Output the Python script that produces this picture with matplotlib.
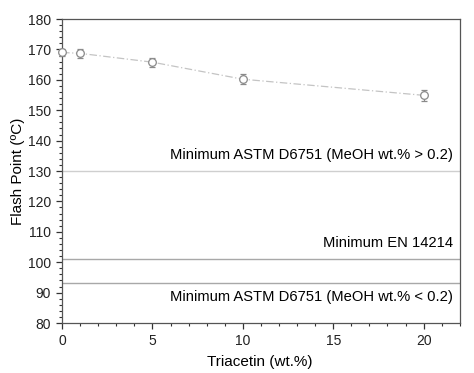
import numpy as np
import matplotlib.pyplot as plt
from matplotlib.ticker import MultipleLocator

plt.rcParams['font.family'] = ['Liberation Sans', 'DejaVu Sans']

# Datos
triacetin = [0, 1, 5, 10, 20]
flash_point = [169.0, 168.7, 165.8, 160.2, 154.9]
error = [1.2, 1.6, 1.5, 1.6, 1.8]

# Límites de las normas
limites = [130, 101, 93]
textos = ["Minimum ASTM D6751 (MeOH wt.% > 0.2)",
          "Minimum EN 14214",
          "Minimum ASTM D6751 (MeOH wt.% < 0.2)"]

fig = plt.figure(figsize=(4.74, 3.73), dpi=100)
ax = fig.add_axes([0.131, 0.134, 0.839, 0.815])

ax.plot(triacetin, flash_point, color='#c4c4c4', lw=0.9, ls=(0, (6, 2, 1, 2)), zorder=2)
ax.errorbar(triacetin, flash_point, yerr=error, fmt='o', ms=5.5, mfc='white',
            mec='#8a8a8a', mew=0.9, ecolor='#8a8a8a', elinewidth=0.9, capsize=2.5,
            capthick=0.9, clip_on=False, zorder=3)

colores = ['#cfcfcf', '#a8a8a8', '#a8a8a8']
for y, c in zip(limites, colores):
    ax.axhline(y, color=c, lw=1.0, zorder=1)

ax.text(21.6, limites[0] + 3, textos[0], ha='right', va='bottom', fontsize=10.6)
ax.text(21.6, limites[1] + 3, textos[1], ha='right', va='bottom', fontsize=10.6)
ax.text(21.6, limites[2] - 2.2, textos[2], ha='right', va='top', fontsize=10.6)

ax.set_xlim(0, 22)
ax.set_ylim(80, 180)
ax.xaxis.set_major_locator(MultipleLocator(5))
ax.xaxis.set_minor_locator(MultipleLocator(1))
ax.yaxis.set_major_locator(MultipleLocator(10))
ax.yaxis.set_minor_locator(MultipleLocator(2))
ax.tick_params(which='major', direction='out', length=4, width=0.9, labelsize=10,
               color='#333333', labelcolor='#222222', pad=4)
ax.tick_params(which='minor', direction='out', length=2.5, width=0.8, color='#333333')
for s in ax.spines.values():
    s.set_color('#555555')
    s.set_linewidth(0.9)

ax.set_xlabel("Triacetin (wt.%)", fontsize=11)
ax.set_ylabel("Flash Point (ºC)", fontsize=11)
ax.xaxis.set_label_coords(0.498, -0.105)
ax.yaxis.set_label_coords(-0.093, 0.5)

fig.savefig("out.png", dpi=100)
